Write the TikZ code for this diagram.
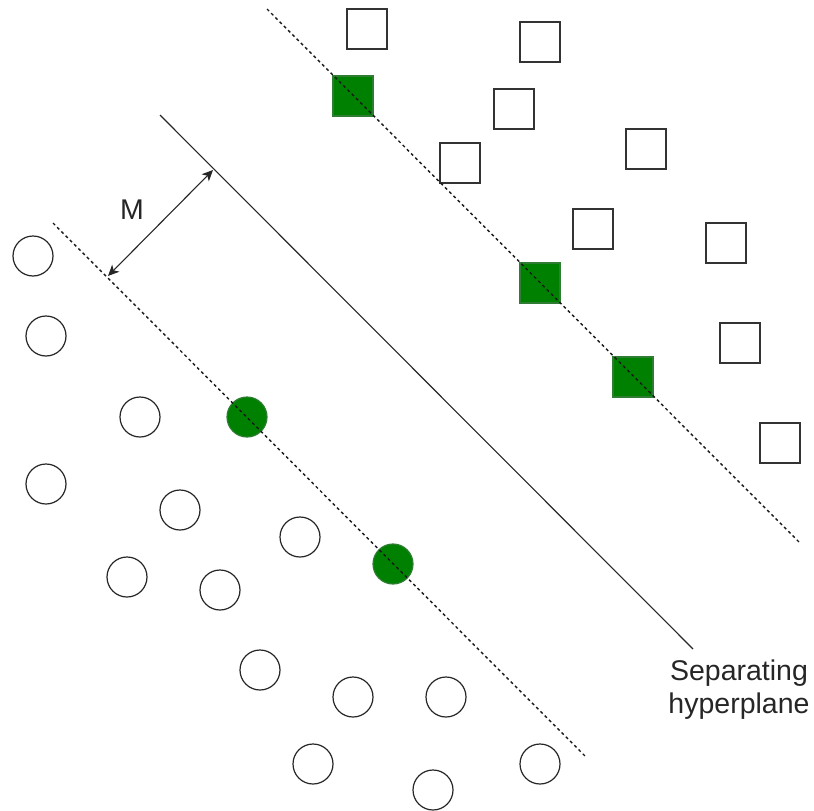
\documentclass[tikz,border=0pt]{standalone}
\usepackage{fontspec}
\setmainfont{Liberation Sans}
\usetikzlibrary{arrows.meta}
\definecolor{sgreen}{HTML}{008000}
\definecolor{sgreenb}{HTML}{2E7D32}
\begin{document}
\begin{tikzpicture}[x=1pt,y=-1pt,
  wsq/.style={draw=black!80,fill=white,line width=1.2pt,minimum size=40pt,inner sep=0pt,rectangle},
  gsq/.style={wsq,fill=sgreen,draw=sgreenb},
  wci/.style={draw=black!85,fill=white,line width=1.2pt,minimum size=40pt,inner sep=0pt,circle},
  gci/.style={wci,fill=sgreen,draw=sgreenb},
  margin/.style={line width=1.4pt,dash pattern=on 3pt off 3pt,black!90},
  hyper/.style={line width=1.1pt,black!85},
  mtip/.tip={Stealth[length=11pt,width=10pt,inset=3pt]},
  lbl/.style={font=\fontsize{28.5}{33}\selectfont,text=black!85,inner sep=0pt,align=center}]
\useasboundingbox (0,0) rectangle (814,811);
% white squares
\node[wsq] (s1) at (367,29) {};
\node[wsq] (s2) at (540,42) {};
\node[wsq] (s3) at (514,109) {};
\node[wsq] (s4) at (460,163) {};
\node[wsq] (s5) at (646,149) {};
\node[wsq] (s6) at (593,229) {};
\node[wsq] (s7) at (726,243) {};
\node[wsq] (s8) at (740,343) {};
\node[wsq] (s9) at (780,443) {};
% green squares
\node[gsq] (g1) at (353,96) {};
\node[gsq] (g2) at (540,283) {};
\node[gsq] (g3) at (633,377) {};
% white circles
\node[wci] (c1) at (33,256) {};
\node[wci] (c2) at (46,336) {};
\node[wci] (c3) at (140,417) {};
\node[wci] (c4) at (46,484) {};
\node[wci] (c5) at (180,510) {};
\node[wci] (c6) at (300,537) {};
\node[wci] (c7) at (127,577) {};
\node[wci] (c8) at (220,590) {};
\node[wci] (c9) at (260,670) {};
\node[wci] (c10) at (353,697) {};
\node[wci] (c11) at (446,697) {};
\node[wci] (c12) at (313,764) {};
\node[wci] (c13) at (433,790) {};
\node[wci] (c14) at (540,764) {};
% green circles
\node[gci] (gc1) at (247,417) {};
\node[gci] (gc2) at (393,564) {};
% lines
\coordinate (u1) at (267,9);
\coordinate (u2) at (800,543);
\coordinate (l1) at (53,223);
\coordinate (l2) at (586,757);
\coordinate (h1) at (160,115);
\coordinate (h2) at (693,649);
\draw[margin] (u1) -- (u2);
\draw[margin] (l1) -- (l2);
\draw[hyper] (h1) -- (h2);
% margin arrow
\coordinate (m1) at (108,276);
\coordinate (m2) at (213,170);
\draw[line width=1.1pt,black!85,mtip-mtip] (m1) -- (m2);
\node[lbl] (mlab) at (132,210) {M};
\node[lbl] (hlab) at (739,690) {Separating\\hyperplane};
\end{tikzpicture}
\end{document}
